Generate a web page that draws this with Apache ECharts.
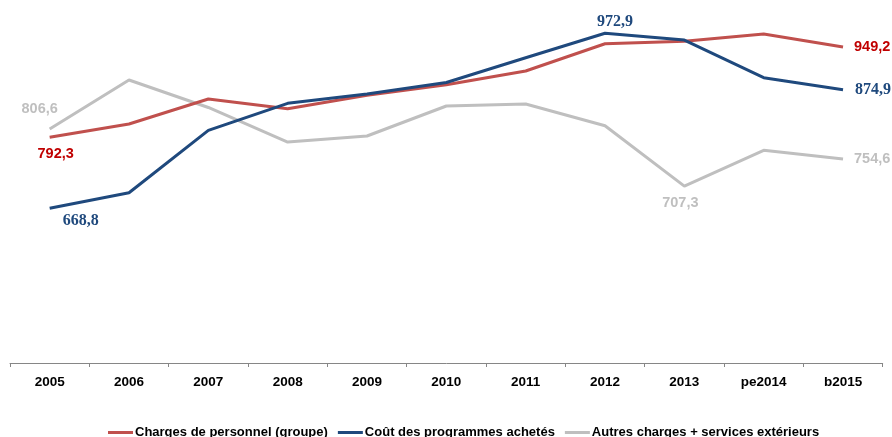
<!DOCTYPE html>
<html><head><meta charset="utf-8">
<script src="https://cdn.jsdelivr.net/npm/echarts@6/dist/echarts.min.js"></script>
<style>html,body{margin:0;padding:0;background:#fff}#c{width:892px;height:437px}</style>
</head><body><div id="c"></div>
<script>
const categories = ['2005','2006','2007','2008','2009','2010','2011','2012','2013','pe2014','b2015'];
const personnel = [792.3, 815.3, 858.7, 841.9, 865.1, 883.5, 907.4, 954.8, 959.0, 971.7, 949.2];
const programmes = [668.8, 695.9, 804.3, 851.2, 867.4, 887.5, 930.5, 972.9, 961.2, 895.8, 874.9];
const autres = [806.6, 891.7, 844.0, 784.0, 794.4, 846.6, 850.0, 812.3, 707.3, 769.6, 754.6];
const seriesNames = ['Charges de personnel (groupe)', 'Coût des programmes achetés', 'Autres charges + services extérieurs'];

const sans = '"Liberation Sans", Arial, sans-serif';
const serif = '"Liberation Serif", serif';
const fmt = v => v.toFixed(1).replace('.', ',');

// label placement per series: index -> [position, offset]
const labelSpec = {
  0: {0: ['bottom', [6, 4]], 10: ['right', [6, 0]]},
  1: {0: ['bottom', [31, 0]], 7: ['top', [10, 2]], 10: ['right', [7, 0]]},
  2: {0: ['top', [-10, -8]], 8: ['bottom', [-4, 4]], 10: ['right', [6, 0]]}
};
const labelStyle = [
  {color: '#C00000', fontFamily: sans, fontWeight: 'bold', fontSize: 14.5},
  {color: '#1F497D', fontFamily: serif, fontWeight: 'bold', fontSize: 16},
  {color: '#BFBFBF', fontFamily: sans, fontWeight: 'bold', fontSize: 14.5}
];
const colors = ['#C0504D', '#1F497D', '#BFBFBF'];
const allData = [personnel, programmes, autres];

function buildData(si) {
  return allData[si].map((v, i) => {
    const spec = labelSpec[si][i];
    if (!spec) return {value: v};
    return {value: v, label: Object.assign({show: true, position: spec[0], offset: spec[1], formatter: p => fmt(p.value), distance: 5}, labelStyle[si])};
  });
}

const chart = echarts.init(document.getElementById('c'), null, {renderer: 'canvas'});
chart.setOption({
  animation: false,
  grid: {left: 10, right: 9.3, top: 17.7, bottom: 74},
  legend: {
    left: 103, top: 421,
    itemWidth: 25, itemHeight: 3, itemGap: 10,
    icon: 'rect',
    textStyle: {fontFamily: sans, fontWeight: 'bold', fontSize: 13, color: '#000', padding: [0, 0, 0, -3]},
    data: seriesNames
  },
  xAxis: {
    type: 'category', data: categories, boundaryGap: true,
    axisLine: {lineStyle: {color: '#868686', width: 1}},
    axisTick: {show: true, length: 4, lineStyle: {color: '#868686'}},
    axisLabel: {fontFamily: sans, fontWeight: 'bold', fontSize: 13.5, color: '#000', margin: 12}
  },
  yAxis: {
    type: 'value', min: 400, max: 1000, interval: 100, show: false,
    splitLine: {show: false}
  },
  series: [0, 1, 2].map(si => ({
    name: seriesNames[si], type: 'line', data: buildData(si),
    symbol: 'circle', symbolSize: 0, showSymbol: true,
    lineStyle: {color: colors[si], width: 3},
    itemStyle: {color: colors[si]},
    z: si === 1 ? 3 : (si === 0 ? 2 : 1)
  }))
});
</script></body></html>
